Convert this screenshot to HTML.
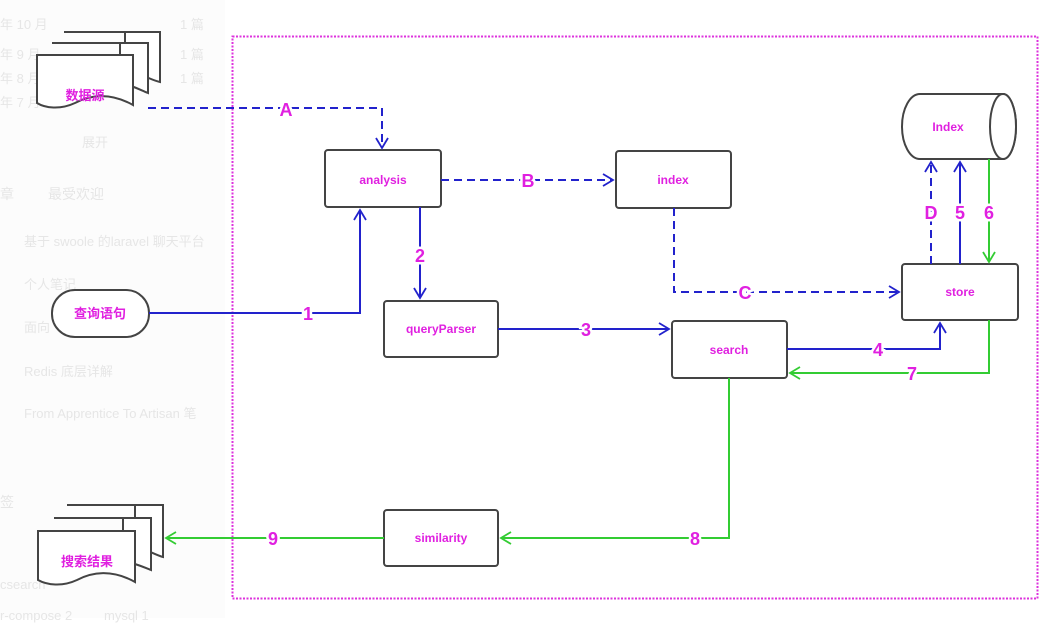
<!DOCTYPE html>
<html><head><meta charset="utf-8"><style>
html,body{margin:0;padding:0;background:#fff;}
body{width:1061px;height:618px;overflow:hidden;position:relative;font-family:"Liberation Sans","Noto Sans CJK SC",sans-serif;}
.bg{position:absolute;color:#e6e6e6;font-size:13px;white-space:nowrap;}
svg{position:absolute;left:0;top:0;}
</style></head><body>
<div style="position:absolute;left:0;top:0;width:225px;height:618px;background:#fcfcfc;"></div>
<div class="bg" style="left:0;top:14px">年 10 月</div><div class="bg" style="left:180px;top:14px">1 篇</div>
<div class="bg" style="left:0;top:44px">年 9 月</div><div class="bg" style="left:180px;top:44px">1 篇</div>
<div class="bg" style="left:0;top:68px">年 8 月</div><div class="bg" style="left:180px;top:68px">1 篇</div>
<div class="bg" style="left:0;top:92px">年 7 月</div>
<div class="bg" style="left:82px;top:132px">展开</div>
<div class="bg" style="left:0;top:184px;font-size:14px">章</div><div class="bg" style="left:48px;top:184px;font-size:14px">最受欢迎</div>
<div class="bg" style="left:24px;top:231px">基于 swoole 的laravel 聊天平台</div>
<div class="bg" style="left:24px;top:274px">个人笔记</div>
<div class="bg" style="left:24px;top:317px">面向</div>
<div class="bg" style="left:24px;top:361px">Redis 底层详解</div>
<div class="bg" style="left:24px;top:403px">From Apprentice To Artisan 笔</div>
<div class="bg" style="left:0;top:492px;font-size:14px">签</div>
<div class="bg" style="left:0;top:577px">csearch</div>
<div class="bg" style="left:0;top:608px">r-compose  2</div><div class="bg" style="left:104px;top:608px">mysql  1</div>
<svg width="1061" height="618" viewBox="0 0 1061 618">
<defs>
<marker id="ab" markerWidth="14" markerHeight="14" refX="11" refY="7" orient="auto" markerUnits="userSpaceOnUse"><path d="M1 1 L11 7 L1 13" fill="none" stroke="#2222cc" stroke-width="1.8"/></marker>
<marker id="ag" markerWidth="14" markerHeight="14" refX="11" refY="7" orient="auto" markerUnits="userSpaceOnUse"><path d="M1 1 L11 7 L1 13" fill="none" stroke="#33cc33" stroke-width="1.8"/></marker>
</defs>
<rect x="232.5" y="36.5" width="805" height="562" fill="none" stroke="#dd33dd" stroke-width="2" stroke-dasharray="2 1.5"/>
<g fill="#fff" stroke="#444" stroke-width="2">
<path d="M64 32 H160 V82 C150 80 140 72 125 72 V32Z"/>
<path d="M52 43 H148 V93 C140 90 130 84 120 84 V43Z"/>
<path d="M37 55 H133 V105 C110 92 90 95 75 103 C60 110 45 108 37 103 Z"/>
<path d="M67 505 H163 V557 C155 555 145 548 135 548 V505Z"/>
<path d="M54 518 H151 V570 C143 567 133 562 123 562 V518Z"/>
<path d="M38 531 H135 V582 C112 569 92 572 77 580 C62 587 47 585 38 580 Z"/>
<rect x="52" y="290" width="97" height="47" rx="23" ry="23"/>
<rect x="325" y="150" width="116" height="57" rx="3"/>
<rect x="616" y="151" width="115" height="57" rx="3"/>
<rect x="384" y="301" width="114" height="56" rx="3"/>
<rect x="672" y="321" width="115" height="57" rx="3"/>
<rect x="902" y="264" width="116" height="56" rx="3"/>
<rect x="384" y="510" width="114" height="56" rx="3"/>
<path d="M920 94 H1003 A13 32.5 0 0 1 1003 159 H920 A18 32.5 0 0 1 920 94Z"/>
<ellipse cx="1003" cy="126.5" rx="13" ry="32.5"/>
</g>
<g fill="none" stroke-width="2">
<path d="M148 108 H382 V148" stroke="#2222cc" stroke-dasharray="8 5" marker-end="url(#ab)"/>
<path d="M441 180 H613" stroke="#2222cc" stroke-dasharray="8 5" marker-end="url(#ab)"/>
<path d="M674 208 V292 H899" stroke="#2222cc" stroke-dasharray="8 5" marker-end="url(#ab)"/>
<path d="M149 313 H360 V210" stroke="#2222cc" marker-end="url(#ab)"/>
<path d="M420 207 V298" stroke="#2222cc" marker-end="url(#ab)"/>
<path d="M498 329 H669" stroke="#2222cc" marker-end="url(#ab)"/>
<path d="M787 349 H940 V323" stroke="#2222cc" marker-end="url(#ab)"/>
<path d="M931 264 V162" stroke="#2222cc" stroke-dasharray="8 5" marker-end="url(#ab)"/>
<path d="M960 264 V162" stroke="#2222cc" marker-end="url(#ab)"/>
<path d="M989 159 V262" stroke="#33cc33" marker-end="url(#ag)"/>
<path d="M989 320 V373 H790" stroke="#33cc33" marker-end="url(#ag)"/>
<path d="M729 378 V538 H501" stroke="#33cc33" marker-end="url(#ag)"/>
<path d="M384 538 H166" stroke="#33cc33" marker-end="url(#ag)"/>
</g>
<g font-family="Liberation Sans,sans-serif" font-weight="bold" fill="#e020e0" text-anchor="middle">
<g font-size="12">
<text x="383" y="184">analysis</text>
<text x="673" y="184">index</text>
<text x="441" y="333">queryParser</text>
<text x="729" y="354">search</text>
<text x="960" y="296">store</text>
<text x="441" y="542">similarity</text>
<text x="948" y="131">Index</text>
</g>
<g font-size="13" font-family="Noto Sans CJK SC,sans-serif" font-weight="bold">
<text x="85" y="100">数据源</text>
<text x="100" y="318">查询语句</text>
<text x="87" y="566">搜索结果</text>
</g>
<g font-size="18" font-weight="bold" stroke="#fff" stroke-width="5" paint-order="stroke">
<text x="286" y="116">A</text>
<text x="528" y="187">B</text>
<text x="745" y="299">C</text>
<text x="931" y="219">D</text>
<text x="960" y="219">5</text>
<text x="989" y="219">6</text>
<text x="308" y="320">1</text>
<text x="420" y="262">2</text>
<text x="586" y="336">3</text>
<text x="878" y="356">4</text>
<text x="912" y="380">7</text>
<text x="695" y="545">8</text>
<text x="273" y="545">9</text>
</g>
</g>
</svg>
</body></html>
